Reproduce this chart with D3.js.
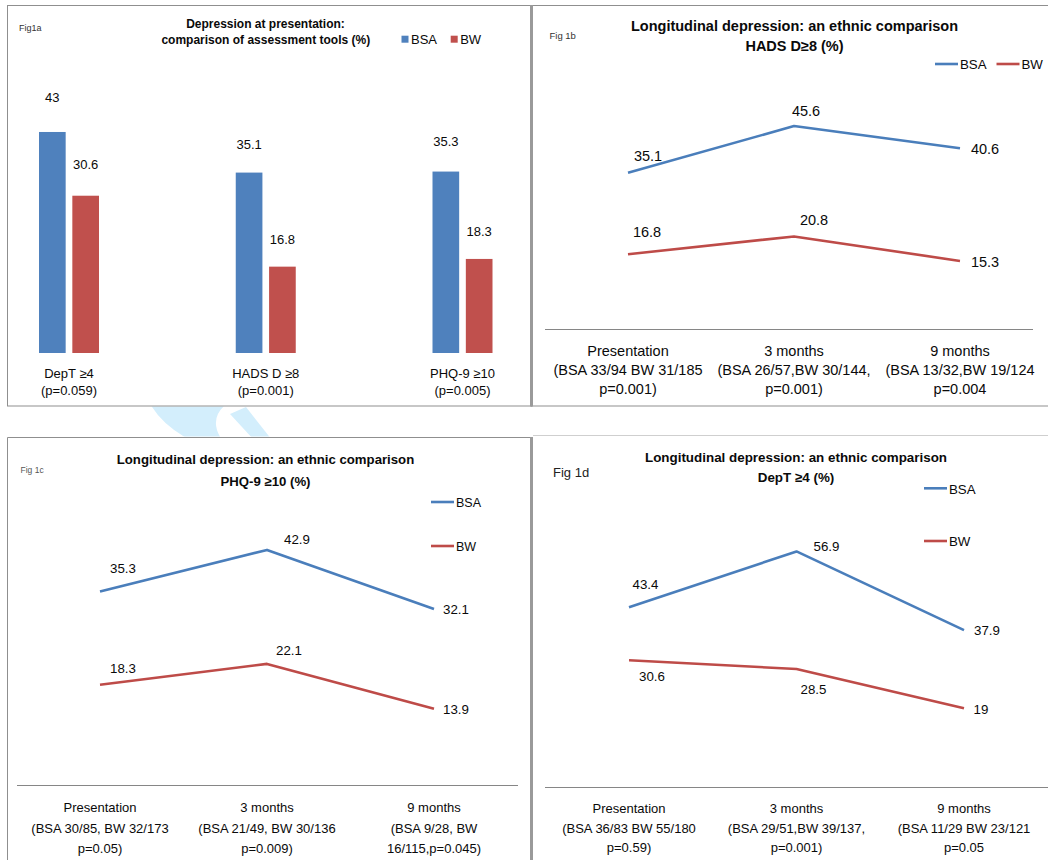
<!DOCTYPE html>
<html>
<head>
<meta charset="utf-8">
<script src="https://cdn.jsdelivr.net/npm/d3@7"></script>
<style>
  html, body { margin: 0; padding: 0; background: #fff; }
  svg { display: block; font-family: "Liberation Sans", Arial, Helvetica, sans-serif; }
</style>
</head>
<body>
<svg id="chart" width="1048" height="860"></svg>
<script>
// ---------------- data ----------------
const series = ["BSA", "BW"];

// Fig 1a: depression at presentation by assessment tool (%)
const barCategories = ["DepT ≥4", "HADS D ≥8", "PHQ-9 ≥10"];
const barPValues = ["(p=0.059)", "(p=0.001)", "(p=0.005)"];
const barBSA = [43, 35.1, 35.3];
const barBW = [30.6, 16.8, 18.3];

// Longitudinal time points
const timepoints = ["Presentation", "3 months", "9 months"];

// Fig 1b: HADS D ≥8 (%)
const hadsBSA = [35.1, 45.6, 40.6];
const hadsBW = [16.8, 20.8, 15.3];
const hadsNotes = [
  ["(BSA 33/94 BW 31/185", "p=0.001)"],
  ["(BSA 26/57,BW 30/144,", "p=0.001)"],
  ["(BSA 13/32,BW 19/124", "p=0.004"]
];

// Fig 1c: PHQ-9 ≥10 (%)
const phqBSA = [35.3, 42.9, 32.1];
const phqBW = [18.3, 22.1, 13.9];
const phqNotes = [
  ["(BSA 30/85, BW 32/173", "p=0.05)"],
  ["(BSA 21/49, BW 30/136", "p=0.009)"],
  ["(BSA 9/28, BW", "16/115,p=0.045)"]
];

// Fig 1d: DepT ≥4 (%)
const deptBSA = [43.4, 56.9, 37.9];
const deptBW = [30.6, 28.5, 19];
const deptNotes = [
  ["(BSA 36/83 BW 55/180", "p=0.59)"],
  ["(BSA 29/51,BW 39/137,", "p=0.001)"],
  ["(BSA 11/29 BW 23/121", "p=0.05"]
];

// ---------------- styling ----------------
const barColor = { BSA: "#4F81BD", BW: "#C0504D" };
const lineColor = { BSA: "#4A7EBB", BW: "#BE4B48" };
const frameColor = "#8f8f8f";
const ink = "#0a0a0a";

const svg = d3.select("#chart");

// faint background watermark showing between the panels
const defs = svg.append("defs");
defs.append("clipPath").attr("id", "gapClip")
  .append("rect").attr("x", 0).attr("y", 406.5).attr("width", 1048).attr("height", 30);
const wm = svg.append("g").attr("clip-path", "url(#gapClip)").attr("fill", "#d3eefc");
wm.append("path").attr("d", "M148,400 L232,400 Q206,416 222,440 L190,440 Q160,424 148,400 Z");
wm.append("path").attr("d", "M230,414 L246,407 L272,440 L254,440 Z");

// ---------------- panel frames ----------------
const frames = svg.append("g").attr("fill", "none");
// Fig 1a
frames.append("rect").attr("x", 7.5).attr("y", 5.5).attr("width", 524).attr("height", 400.5)
  .attr("stroke", frameColor);
// Fig 1b
frames.append("line").attr("x1", 531).attr("x2", 1048).attr("y1", 5.5).attr("y2", 5.5).attr("stroke", frameColor);
frames.append("line").attr("x1", 531).attr("x2", 1048).attr("y1", 406).attr("y2", 406).attr("stroke", frameColor);
frames.append("rect").attr("x", 530).attr("y", 5).attr("width", 3).attr("height", 401.5).attr("fill", "#9a9a9a");
// Fig 1c
frames.append("line").attr("x1", 7.5).attr("x2", 531).attr("y1", 437.5).attr("y2", 437.5).attr("stroke", frameColor);
frames.append("line").attr("x1", 7.5).attr("x2", 7.5).attr("y1", 437.5).attr("y2", 860).attr("stroke", frameColor);
// Fig 1d
frames.append("line").attr("x1", 533).attr("x2", 1048).attr("y1", 435.5).attr("y2", 435.5).attr("stroke", "#cfcfcf");
frames.append("rect").attr("x", 530).attr("y", 437).attr("width", 3).attr("height", 423).attr("fill", "#9a9a9a");

// ---------------- helpers ----------------
function addText(g, x, y, str, opts = {}) {
  return g.append("text")
    .attr("x", x).attr("y", y)
    .attr("text-anchor", opts.anchor || "middle")
    .attr("font-size", opts.size || 13)
    .attr("font-weight", opts.bold ? "bold" : "normal")
    .attr("fill", opts.fill || ink)
    .text(str);
}

// ---------------- Fig 1a: grouped bars ----------------
(function barPanel() {
  const g = svg.append("g");
  const x0 = d3.scalePoint().domain(barCategories).range([69, 462.5]);
  const x1 = d3.scaleBand().domain(series).range([-30, 30]).paddingInner(0.2);
  const y = d3.scaleLinear().domain([0, 50]).range([353, 353 - 50 * 5.14]);
  const values = { BSA: barBSA, BW: barBW };
  const labelDy = { BSA: [-30, -24, -26], BW: [-27, -23, -23] };

  series.forEach(s => {
    const rows = barCategories.map((c, i) => ({ c, v: values[s][i], i }));
    g.selectAll(null).data(rows).join("rect")
      .attr("x", d => x0(d.c) + x1(s))
      .attr("y", d => y(d.v))
      .attr("width", x1.bandwidth())
      .attr("height", d => y(0) - y(d.v))
      .attr("fill", barColor[s]);
    g.selectAll(null).data(rows).join("text")
      .attr("x", d => x0(d.c) + x1(s) + x1.bandwidth() / 2)
      .attr("y", d => y(d.v) + labelDy[s][d.i])
      .attr("text-anchor", "middle")
      .attr("font-size", 13)
      .attr("fill", ink)
      .text(d => d.v);
  });

  barCategories.forEach((c, i) => {
    addText(g, x0(c), 378, c, { size: 13 });
    addText(g, x0(c), 394.5, barPValues[i], { size: 13 });
  });

  addText(g, 19, 30.5, "Fig1a", { anchor: "start", size: 9, fill: "#333" });
  addText(g, 265.5, 27.5, "Depression at presentation:", { size: 12, bold: true });
  addText(g, 265.8, 44.3, "comparison of assessment tools (%)", { size: 12, bold: true });

  // legend
  const leg = [{ s: "BSA", x: 401.5 }, { s: "BW", x: 450.7 }];
  leg.forEach(d => {
    g.append("rect").attr("x", d.x).attr("y", 35.7).attr("width", 7).attr("height", 7).attr("fill", barColor[d.s]);
    addText(g, d.x + 9.5, 44.3, d.s, { anchor: "start", size: 13 });
  });
})();

// ---------------- Fig 1b–1d: line charts ----------------
function linePanel(cfg) {
  const g = svg.append("g");
  const x = d3.scalePoint().domain(timepoints).range(cfg.xRange);
  const y = d3.scaleLinear().domain([0, 60]).range([cfg.y0, cfg.y0 - 60 * cfg.k]);
  const values = { BSA: cfg.bsa, BW: cfg.bw };

  // category axis line
  g.append("line")
    .attr("x1", cfg.axisX[0]).attr("x2", cfg.axisX[1])
    .attr("y1", y(0) + 0.5).attr("y2", y(0) + 0.5)
    .attr("stroke", "#868686");

  const line = d3.line().x(d => x(d.t)).y(d => y(d.v));
  series.forEach(s => {
    const rows = timepoints.map((t, i) => ({ t, v: values[s][i], i }));
    g.append("path").datum(rows)
      .attr("d", line)
      .attr("fill", "none")
      .attr("stroke", lineColor[s])
      .attr("stroke-width", 2.6)
      .attr("stroke-linejoin", "round");
    g.selectAll(null).data(rows).join("text")
      .attr("x", d => x(d.t) + cfg.labelOff[s][d.i][0])
      .attr("y", d => y(d.v) + cfg.labelOff[s][d.i][1])
      .attr("text-anchor", "middle")
      .attr("font-size", cfg.valueSize)
      .attr("fill", ink)
      .text(d => d.v);
  });

  // multi-line category labels
  timepoints.forEach((t, i) => {
    const lines = [t].concat(cfg.notes[i]);
    lines.forEach((str, j) => {
      addText(g, x(t), cfg.catY + j * cfg.catLH, str, { size: cfg.catSize });
    });
  });

  // titles
  addText(g, cfg.titleX, cfg.titleY[0], cfg.title[0], { size: cfg.titleSize, bold: true });
  addText(g, cfg.titleX, cfg.titleY[1], cfg.title[1], { size: cfg.titleSize, bold: true });
  addText(g, cfg.fig.x, cfg.fig.y, cfg.fig.text, { anchor: "start", size: cfg.fig.size, fill: cfg.fig.fill });

  // legend
  cfg.legend.forEach(d => {
    g.append("line")
      .attr("x1", d.x).attr("x2", d.x + 23)
      .attr("y1", d.y).attr("y2", d.y)
      .attr("stroke", lineColor[d.s]).attr("stroke-width", 2.6);
    addText(g, d.x + 25, d.y + 5.3, d.s, { anchor: "start", size: cfg.legendSize });
  });
}

linePanel({
  xRange: [628, 960], y0: 329, k: 4.45, axisX: [545, 1033],
  bsa: hadsBSA, bw: hadsBW, notes: hadsNotes,
  labelOff: {
    BSA: [[20, -12], [12, -10], [25, 6]],
    BW: [[19, -17], [20, -11], [25, 6]]
  },
  valueSize: 14.5, catSize: 14.5, catY: 356, catLH: 19,
  title: ["Longitudinal depression: an ethnic comparison", "HADS D≥8 (%)"],
  titleX: 794.5, titleY: [30.7, 50.7], titleSize: 14.5,
  fig: { x: 549.5, y: 39, text: "Fig 1b", size: 9.5, fill: "#333" },
  legend: [{ s: "BSA", x: 935, y: 64 }, { s: "BW", x: 996.5, y: 64 }],
  legendSize: 13.3
});

linePanel({
  xRange: [100, 434], y0: 785, k: 5.48, axisX: [17, 518],
  bsa: phqBSA, bw: phqBW, notes: phqNotes,
  labelOff: {
    BSA: [[23, -19], [30, -6], [22, 5]],
    BW: [[23, -12], [22, -9], [22, 5.5]]
  },
  valueSize: 13.3, catSize: 13, catY: 812.3, catLH: 20.2,
  title: ["Longitudinal  depression: an ethnic comparison", "PHQ-9  ≥10 (%)"],
  titleX: 265.5, titleY: [464.3, 486], titleSize: 13.2,
  fig: { x: 20.5, y: 473.3, text: "Fig 1c", size: 8.5, fill: "#555" },
  legend: [{ s: "BSA", x: 431, y: 502 }, { s: "BW", x: 431, y: 546 }],
  legendSize: 12.5
});

linePanel({
  xRange: [629, 964], y0: 787, k: 4.14, axisX: [545, 1048],
  bsa: deptBSA, bw: deptBW, notes: deptNotes,
  labelOff: {
    BSA: [[16.5, -18], [30, 0], [23, 5]],
    BW: [[23, 21], [17, 25], [17, 6]]
  },
  valueSize: 13.3, catSize: 13, catY: 813.3, catLH: 19.5,
  title: ["Longitudinal depression: an ethnic comparison", "DepT ≥4 (%)"],
  titleX: 796, titleY: [461.7, 481.7], titleSize: 13.4,
  fig: { x: 553, y: 476.7, text: "Fig 1d", size: 13, fill: "#222" },
  legend: [{ s: "BSA", x: 924, y: 488.3 }, { s: "BW", x: 924, y: 541 }],
  legendSize: 13.3
});
</script>
</body>
</html>
